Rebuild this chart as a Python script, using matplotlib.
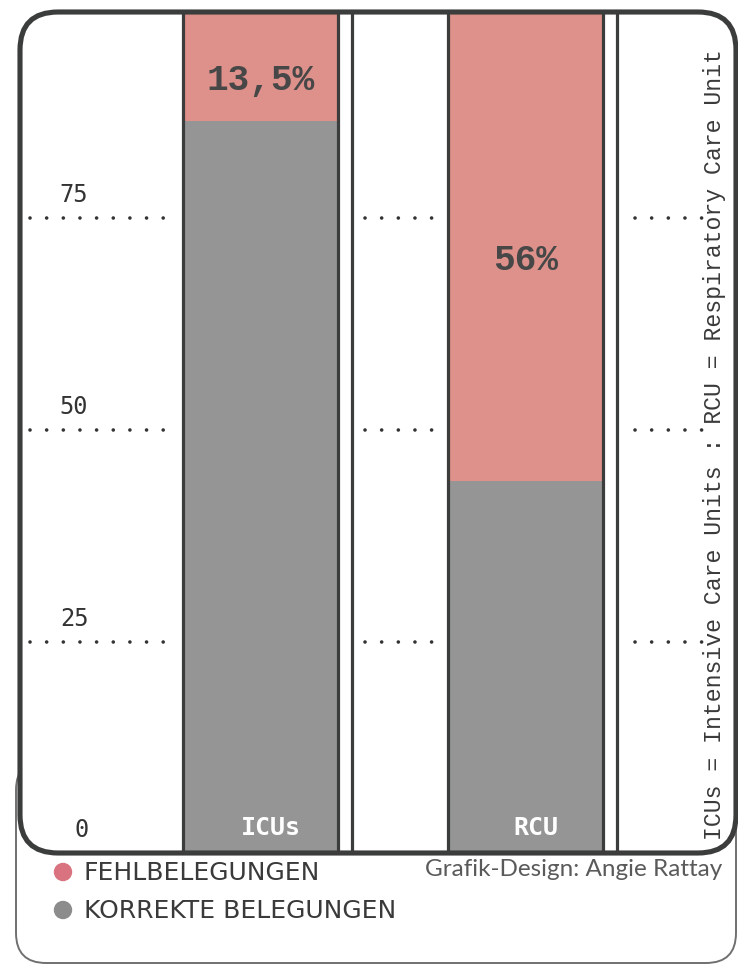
import numpy as np
import matplotlib.pyplot as plt
from matplotlib.patches import FancyBboxPatch, Circle

# Belegung der Betten in %
units = ['ICUs', 'RCU']
fehl = [13.5, 56.0]
korrekt = [86.5, 44.0]
fehl_labels = ['13,5%', '56%']
y_ticks = [0, 25, 50, 75]
legend_labels = ['FEHLBELEGUNGEN', 'KORREKTE BELEGUNGEN']
note = 'ICUs = Intensive Care Units : RCU = Respiratory Care Unit'
credit = 'Grafik-Design: Angie Rattay'

RED = '#de918a'
GREY = '#959595'
DARK = '#3b3d3c'

W, H = 738, 968
fig = plt.figure(figsize=(W / 100, H / 100), dpi=100)

# background layer in pixel units (frames, legend)
bg = fig.add_axes([0, 0, 1, 1], zorder=0)
bg.set_xlim(0, W)
bg.set_ylim(H, 0)
bg.axis('off')

bg.add_patch(FancyBboxPatch((16, 760), 720, 203, boxstyle='round,pad=0,rounding_size=30',
                            fc='white', ec='#707070', lw=1.4))
bg.add_patch(FancyBboxPatch((20, 12), 716, 841, boxstyle='round,pad=0,rounding_size=38',
                            fc='white', ec='none'))

legend_colors = ['#d9737f', '#8c8c8c']
for i, (lab, col) in enumerate(zip(legend_labels, legend_colors)):
    yy = 872 + i * 38
    bg.add_patch(Circle((63, yy), 8.5, color=col))
    bg.text(84, yy + 1, lab, fontsize=18, color='#3a3a3a', va='center', ha='left',
            family=['DejaVu Sans'])
bg.text(722, 870, credit, fontsize=17.5, color='#5a5a5a', va='center', ha='right', family=['Lato'])

# chart layer: 0 at y=853.5 px, 8.47 px per percent; 265 px between bars
ax = fig.add_axes([20 / W, (H - 853.5) / H, 716 / W, 841.5 / H], zorder=2)
ax.set_facecolor('none')
ax.set_ylim(0, 841.5 / 8.47)
ax.set_xlim((20 - 260.5) / 265, (736 - 260.5) / 265)
ax.axis('off')

x = np.arange(len(units))
width = 0.585
ax.bar(x, korrekt, width, color=GREY, lw=0)
ax.bar(x, fehl, width, bottom=korrekt, color=RED, lw=0)
ax.bar(x, np.add(korrekt, fehl), width, fill=False, edgecolor=DARK, lw=2.3)
for xi in x:
    ax.axvline(xi + 0.347, color=DARK, lw=2.3)

# dotted guide lines in the gaps
dots = dict(colors='#333333', lw=2.6, linestyles=(0, (0.01, 4.6)), capstyle='round')
for t in y_ticks[1:]:
    ax.hlines(t, -0.87, -0.342, **dots)
    ax.hlines(t, 0.394, 0.647, **dots)
    ax.hlines(t, 1.413, 1.666, **dots)
    ax.text(-0.65, t + 1.3, str(t), ha='right', va='bottom', fontsize=17,
            color='#333333', family=['DejaVu Sans Mono'])
ax.text(-0.65, 2.0, '0', ha='right', va='baseline', fontsize=17,
        color='#333333', family=['DejaVu Sans Mono'])

for xi, name, k, f, lab in zip(x, units, korrekt, fehl, fehl_labels):
    ax.text(xi + 0.04, 2.2, name, ha='center', va='baseline', fontsize=18,
            color='white', weight='bold', family=['DejaVu Sans Mono'])
    ax.text(xi, k + f / 2 - 2.0, lab, ha='center', va='center', fontsize=26,
            color='#474747', weight='bold', family=['Liberation Mono'])

# top layer: thick outer frame and side note
top = fig.add_axes([0, 0, 1, 1], zorder=5)
top.set_facecolor('none')
top.set_xlim(0, W)
top.set_ylim(H, 0)
top.axis('off')
top.add_patch(FancyBboxPatch((20, 12), 716, 841, boxstyle='round,pad=0,rounding_size=38',
                             fc='none', ec=DARK, lw=3.7))
top.text(714, 445, note, rotation=90, ha='center', va='center', fontsize=16.7,
         color='#3a3a3a', family=['Liberation Mono'])

fig.savefig('out.png', dpi=100, facecolor='white')
